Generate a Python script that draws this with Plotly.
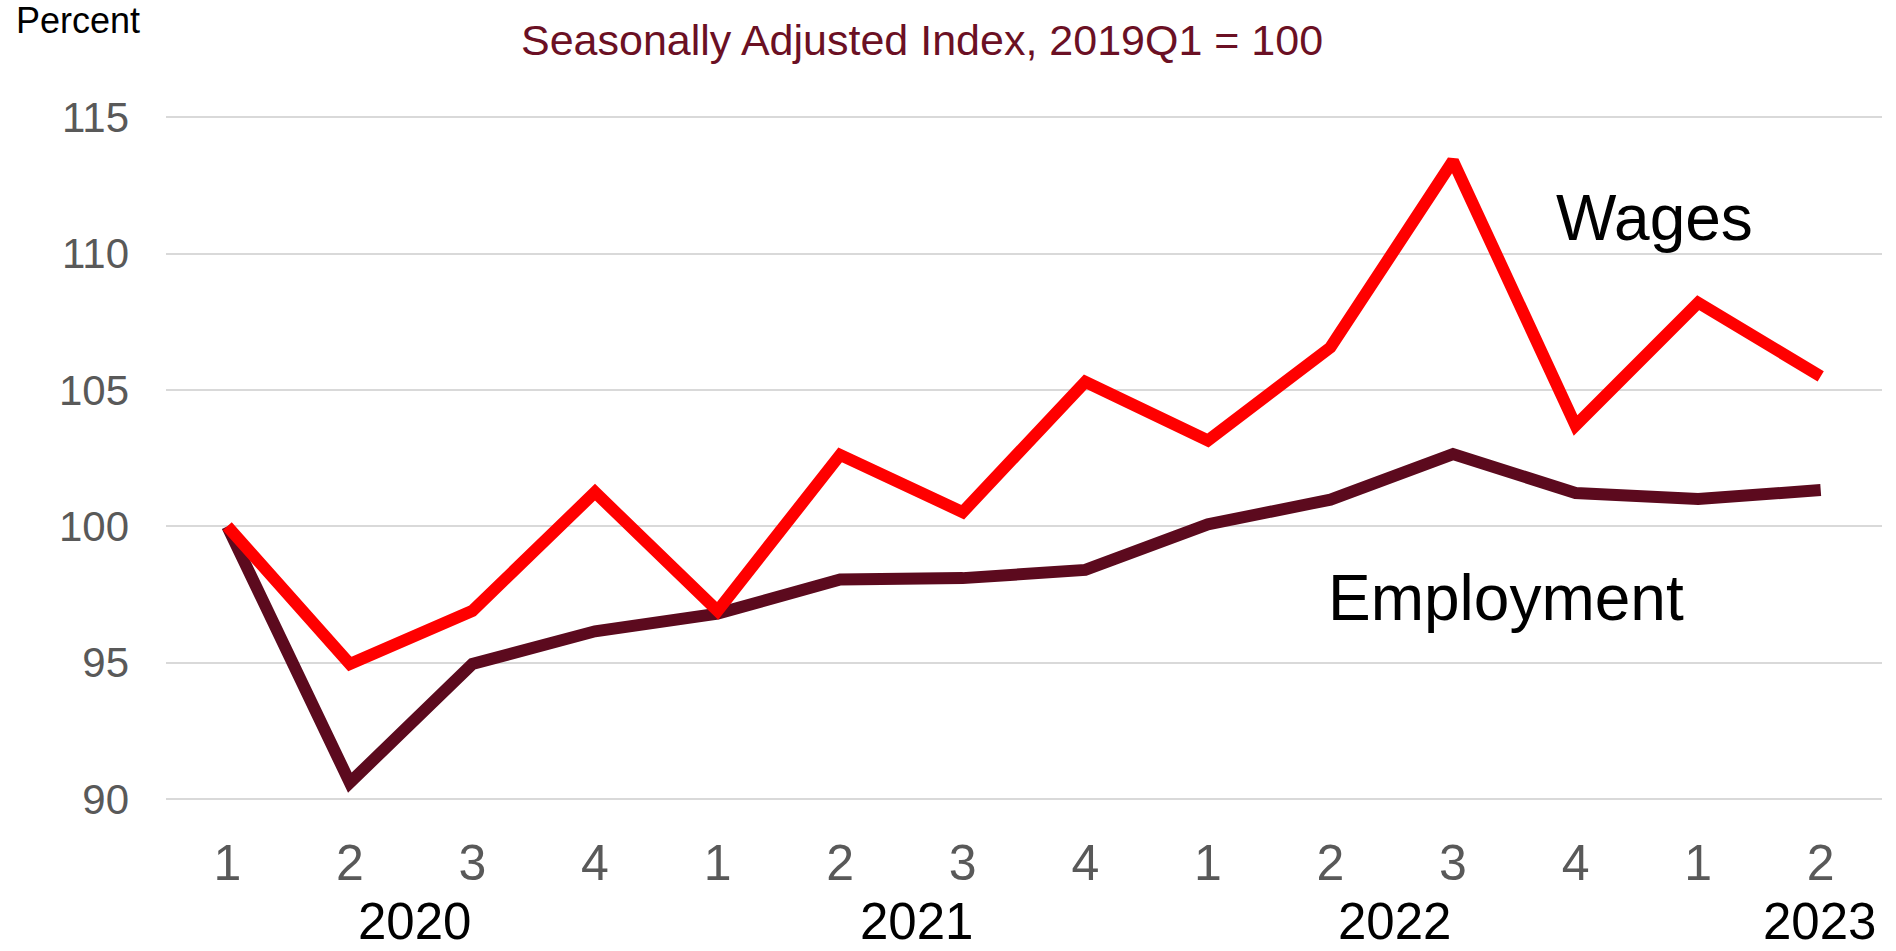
import plotly.graph_objects as go

quarters = ["1", "2", "3", "4", "1", "2", "3", "4", "1", "2", "3", "4", "1", "2"]
years = ["2020", "2021", "2022", "2023"]
year_pos = [1.53, 5.62, 9.52, 12.99]
wages = [100.0, 94.95, 96.9, 101.25, 96.9, 102.62, 100.52, 105.3, 103.15, 106.56, 113.4, 103.7, 108.2, 105.5]
employment = [100.0, 90.6, 94.95, 96.15, 96.8, 98.05, 98.1, 98.4, 100.07, 100.98, 102.65, 101.22, 101.0, 101.33]

x_idx = list(range(len(quarters)))
FONT = "Liberation Sans, Arial, sans-serif"

fig = go.Figure()
fig.add_trace(go.Scatter(x=x_idx, y=employment, mode="lines", name="Employment",
                         line=dict(color="#5C0A1E", width=12), showlegend=False))
fig.add_trace(go.Scatter(x=x_idx, y=wages, mode="lines", name="Wages",
                         line=dict(color="#FF0000", width=12), showlegend=False))

fig.update_layout(
    width=1896, height=951,
    margin=dict(l=166, r=14, t=90, b=122),
    plot_bgcolor="white", paper_bgcolor="white",
    font=dict(family=FONT),
    xaxis=dict(range=[-0.5, 13.5], tickmode="array", tickvals=x_idx, ticktext=quarters,
               showgrid=False, zeroline=False, showline=False,
               tickfont=dict(size=50, color="#595959", family=FONT)),
    yaxis=dict(range=[88.9, 116], tickvals=[90, 95, 100, 105, 110, 115],
               showgrid=True, gridcolor="#D9D9D9", gridwidth=2, zeroline=False,
               showline=False, ticks="", ticklabelstandoff=36,
               tickfont=dict(size=42, color="#595959", family=FONT)),
)

for yr, xp in zip(years, year_pos):
    fig.add_annotation(x=xp, y=-0.1245, xref="x", yref="paper", text=yr, showarrow=False,
                       xanchor="center", yanchor="middle",
                       font=dict(size=51, color="black", family=FONT))

fig.add_annotation(x=-0.0883, y=1.0934, xref="paper", yref="paper", text="Percent",
                   showarrow=False, xanchor="left", yanchor="middle",
                   font=dict(size=36, color="black", family=FONT))
fig.add_annotation(x=0.4406, y=1.0677, xref="paper", yref="paper",
                   text="Seasonally Adjusted Index, 2019Q1 = 100", showarrow=False,
                   xanchor="center", yanchor="middle",
                   font=dict(size=43, color="#6B1024", family=FONT))
fig.add_annotation(x=11.64, y=111.31, xref="x", yref="y", text="Wages", showarrow=False,
                   xanchor="center", yanchor="middle",
                   font=dict(size=64, color="black", family=FONT))
fig.add_annotation(x=10.43, y=97.38, xref="x", yref="y", text="Employment", showarrow=False,
                   xanchor="center", yanchor="middle",
                   font=dict(size=64, color="black", family=FONT))

fig.write_html("out.html", config={"displayModeBar": False},
               post_script="document.body.style.margin='0';document.body.style.overflow='hidden';")
